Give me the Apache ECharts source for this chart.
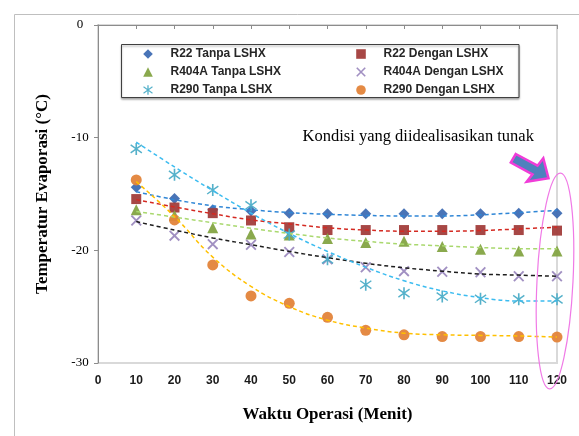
<!DOCTYPE html>
<html>
<head>
<meta charset="utf-8">
<script src="https://cdn.jsdelivr.net/npm/echarts@6/dist/echarts.min.js"></script>
<style>
  html, body { margin: 0; padding: 0; background: #fff; }
  #chart { width: 579px; height: 436px; }
</style>
</head>
<body>
<div id="chart"></div>
<script>
// Waktu operasi (menit)
const waktu = [10, 20, 30, 40, 50, 60, 70, 80, 90, 100, 110, 120];

// Titik data (°C)
const r22Tanpa    = [-14.4, -15.4, -16.4, -16.5, -16.7, -16.75, -16.75, -16.75, -16.75, -16.75, -16.7, -16.7];
const r22Dengan   = [-15.45, -16.2, -16.7, -17.35, -17.95, -18.2, -18.2, -18.2, -18.2, -18.2, -18.2, -18.25];
const r404aTanpa  = [-16.4, -16.9, -18.0, -18.55, -18.65, -18.95, -19.3, -19.2, -19.65, -19.9, -20.05, -20.05];
const r404aDengan = [-17.35, -18.7, -19.45, -19.5, -20.15, -20.8, -21.5, -21.85, -21.9, -21.95, -22.3, -22.3];
const r290Tanpa   = [-11.0, -13.3, -14.65, -16.0, -18.6, -20.8, -23.05, -23.8, -24.1, -24.3, -24.35, -24.35];
const r290Dengan  = [-13.75, -17.3, -21.3, -24.05, -24.7, -25.95, -27.1, -27.5, -27.65, -27.65, -27.65, -27.7];

// Garis trendline
const trR22Tanpa    = [-14.8, -15.5, -16.05, -16.4, -16.65, -16.8, -16.9, -16.95, -16.95, -16.85, -16.65, -16.45];
const trR22Dengan   = [-15.5, -16.15, -16.75, -17.3, -17.65, -18.0, -18.2, -18.3, -18.3, -18.25, -18.1, -17.95];
const trR404aTanpa  = [-16.55, -17.05, -17.55, -18.05, -18.5, -18.9, -19.2, -19.45, -19.6, -19.75, -19.85, -19.85];
const trR404aDengan = [-17.45, -18.2, -18.9, -19.5, -20.1, -20.65, -21.15, -21.55, -21.85, -22.1, -22.2, -22.3];
const trR290Tanpa   = [-10.4, -12.6, -14.7, -16.7, -18.5, -20.1, -21.5, -22.7, -23.6, -24.2, -24.5, -24.5];
const trR290Dengan  = [-13.9, -17.0, -20.6, -23.2, -25.0, -26.2, -26.9, -27.35, -27.5, -27.55, -27.6, -27.7];

const X_SYMBOL = 'path://M0,1.2L1.2,0L10,8.8L8.8,10Z M8.8,0L10,1.2L1.2,10L0,8.8Z';
const STAR_SYMBOL = 'path://M4.4,0H5.6V10H4.4Z M0.6,2.2L1.2,1.2L9.4,7.8L8.8,8.8Z M8.8,1.2L9.4,2.2L1.2,8.8L0.6,7.8Z';

const pts = (arr) => waktu.map((w, i) => [w, arr[i]]);

function markerSeries(name, arr, symbol, size, color) {
  return {
    name, type: 'line', data: pts(arr),
    symbol, symbolSize: size, showAllSymbol: true,
    lineStyle: { width: 0, opacity: 0 },
    itemStyle: { color, opacity: 0.95 },
    z: 3,
  };
}
function trendSeries(name, arr, color) {
  return {
    name, type: 'line', data: pts(arr), smooth: 0.4,
    symbol: 'none', silent: true,
    lineStyle: { width: 1.5, color, type: [4, 3] },
    z: 4,
  };
}

const chart = echarts.init(document.getElementById('chart'));
const legendText = { fontFamily: 'Liberation Sans', fontWeight: 'bold', fontSize: 12, color: '#262626', lineHeight: 12 };

chart.setOption({
  animation: false,
  backgroundColor: '#fff',
  grid: { left: 98, top: 25, width: 459, height: 338, show: true, borderColor: '#d9d9d9', borderWidth: 2 },
  legend: [
    {
      orient: 'vertical', left: 130.5, top: 48, padding: 0,
      itemWidth: 35, itemHeight: 12, itemGap: 6,
      lineStyle: { opacity: 0 },
      textStyle: legendText,
      data: ['R22 Tanpa LSHX', 'R404A Tanpa LSHX', 'R290 Tanpa LSHX'],
    },
    {
      orient: 'vertical', left: 343.5, top: 48, padding: 0,
      itemWidth: 35, itemHeight: 12, itemGap: 6,
      lineStyle: { opacity: 0 },
      textStyle: legendText,
      data: ['R22 Dengan LSHX', 'R404A Dengan LSHX', 'R290 Dengan LSHX'],
    },
  ],
  xAxis: [
    {
      type: 'value', min: 0, max: 120, interval: 10,
      axisLine: { show: false, onZero: false },
      axisTick: { show: false },
      splitLine: { show: false },
      axisLabel: { margin: 12, fontFamily: 'Liberation Sans', fontWeight: 'bold', fontSize: 12, color: '#1a1a1a' },
      name: 'Waktu Operasi (Menit)', nameLocation: 'middle', nameGap: 43,
      nameTextStyle: { fontFamily: 'Liberation Serif', fontWeight: 'bold', fontSize: 17, color: '#000' },
    },
    {
      type: 'value', position: 'top', min: 0, max: 120, interval: 10,
      axisLine: { show: true, onZero: false, lineStyle: { color: '#8c8c8c', width: 1 } },
      axisTick: { show: true, inside: true, length: 4, lineStyle: { color: '#8c8c8c' } },
      axisLabel: { show: false },
      splitLine: { show: false },
    },
  ],
  yAxis: {
    type: 'value', min: -30, max: 0, interval: 10,
    axisLine: { show: true, onZero: false, lineStyle: { color: '#8c8c8c', width: 1 } },
    axisTick: { show: true, length: 4, lineStyle: { color: '#8c8c8c' } },
    splitLine: { show: false },
    axisLabel: { margin: 18, align: 'center', fontFamily: 'Liberation Serif', fontSize: 13, color: '#000' },
    name: 'Temperatur Evaporasi (°C)', nameLocation: 'middle', nameGap: 47,
    nameTextStyle: { fontFamily: 'Liberation Serif', fontWeight: 'bold', fontSize: 17, color: '#000' },
  },
  series: [
    markerSeries('R22 Tanpa LSHX', r22Tanpa, 'diamond', 11, '#3f6db3'),
    markerSeries('R22 Dengan LSHX', r22Dengan, 'rect', 10, '#a23d3b'),
    markerSeries('R404A Tanpa LSHX', r404aTanpa, 'triangle', 11, '#84a443'),
    markerSeries('R404A Dengan LSHX', r404aDengan, X_SYMBOL, 11, '#9c8abf'),
    markerSeries('R290 Tanpa LSHX', r290Tanpa, STAR_SYMBOL, 12, '#4cadc7'),
    markerSeries('R290 Dengan LSHX', r290Dengan, 'circle', 11, '#e3843a'),
    trendSeries('trend R22 Tanpa', trR22Tanpa, '#2f86d6'),
    trendSeries('trend R22 Dengan', trR22Dengan, '#d42a22'),
    trendSeries('trend R404A Tanpa', trR404aTanpa, '#a9d86e'),
    trendSeries('trend R404A Dengan', trR404aDengan, '#1e1e1e'),
    trendSeries('trend R290 Tanpa', trR290Tanpa, '#3cbcf0'),
    trendSeries('trend R290 Dengan', trR290Dengan, '#ffc000'),
  ],
  graphic: [
    // bingkai area chart
    { type: 'rect', left: 12, top: 12, silent: true, z: -1,
      shape: { x: 0, y: 0, width: 600, height: 460 },
      style: { fill: 'none', stroke: '#bfbfbf', lineWidth: 1 } },
    // kotak legenda
    { type: 'rect', silent: true, z: 1,
      shape: { x: 121.5, y: 44.5, width: 397.5, height: 53 },
      style: { fill: '#fff', stroke: '#404040', lineWidth: 1, shadowColor: 'rgba(0,0,0,0.35)', shadowBlur: 2, shadowOffsetY: 1.5 } },
    // keterangan
    { type: 'text', x: 302.5, y: 128.5, silent: true, z: 10,
      style: { text: 'Kondisi yang diidealisasikan tunak', fontFamily: 'Liberation Serif', fontSize: 16.5, fill: '#000' } },
    // panah
    { type: 'polygon', silent: true, z: 10,
      shape: { points: [[515.8, 154], [537.5, 165.7], [543.3, 158.3], [548.5, 178.2], [526.7, 181.7], [532.5, 174.3], [510.8, 162.6]] },
      style: { fill: '#4f81bd', stroke: '#f03cd8', lineWidth: 2.5, lineJoin: 'miter' } },
    // elips
    { type: 'ellipse', silent: true, z: 10, originX: 555, originY: 281, rotation: -0.05,
      shape: { cx: 555, cy: 281, rx: 18, ry: 108 },
      style: { fill: 'none', stroke: '#f07ae6', lineWidth: 1.2 } },
  ],
});
</script>
</body>
</html>
